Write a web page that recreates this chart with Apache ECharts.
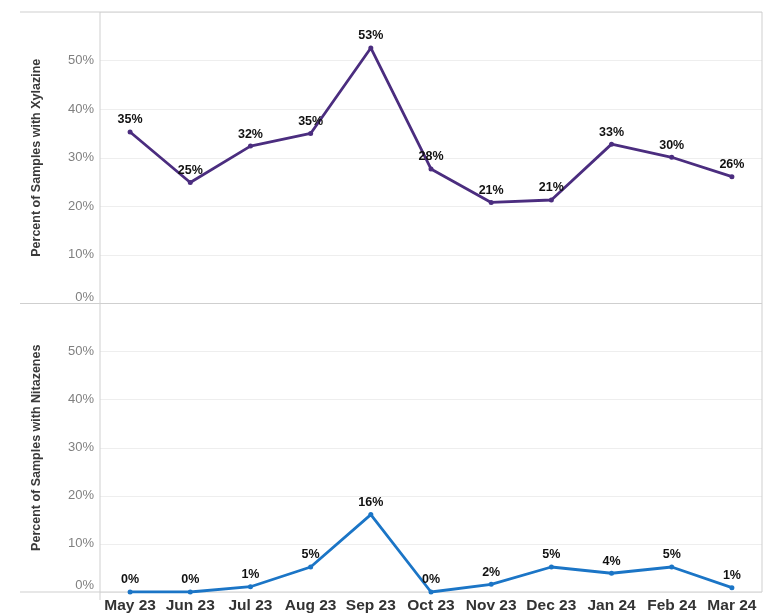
<!DOCTYPE html>
<html>
<head>
<meta charset="utf-8">
<script src="https://cdn.jsdelivr.net/npm/echarts@6/dist/echarts.min.js"></script>
<style>
html,body{margin:0;padding:0;background:#fff;}
#chart{width:780px;height:614px;}
</style>
</head>
<body>
<div id="chart"></div>
<script>
var categories = ['May 23','Jun 23','Jul 23','Aug 23','Sep 23','Oct 23','Nov 23','Dec 23','Jan 24','Feb 24','Mar 24'];
var xylazine = [35.3, 24.9, 32.4, 35.0, 52.6, 27.7, 20.8, 21.3, 32.8, 30.1, 26.1];
var nitazenes = [0.0, 0.0, 1.1, 5.2, 16.1, 0.0, 1.6, 5.2, 3.9, 5.2, 0.9];
var yTicks = [0, 10, 20, 30, 40, 50];
var yNames = ['Percent of Samples with Xylazine', 'Percent of Samples with Nitazenes'];

var FONT = '"Liberation Sans", Arial, sans-serif';
var chart = echarts.init(document.getElementById('chart'));

function yAxis(idx, name) {
  return {
    type: 'value', gridIndex: idx, min: 0, max: 60, interval: 10,
    name: name, nameLocation: 'middle', nameGap: 57,
    nameTextStyle: {fontFamily: FONT, fontSize: 12.5, fontWeight: 'bold', color: '#3a3a3a'},
    axisLine: {show: false}, axisTick: {show: false},
    axisLabel: {
      fontFamily: FONT, fontSize: 13, color: '#808080', margin: 6,
      verticalAlignMinLabel: 'bottom',
      formatter: function (v) { return yTicks.indexOf(v) >= 0 ? v + '%' : ''; }
    },
    splitLine: {lineStyle: {color: '#eeeeee', width: 1}}
  };
}
function xAxis(idx, showLabels) {
  return {
    type: 'category', gridIndex: idx, data: categories, boundaryGap: true,
    axisLine: {show: false}, axisTick: {show: false},
    axisLabel: {show: showLabels, fontFamily: FONT, fontSize: 15.5, fontWeight: 'bold', color: '#333', margin: 6, interval: 0},
    splitLine: {show: false}
  };
}
function lineSeries(idx, data, color) {
  return {
    type: 'line', xAxisIndex: idx, yAxisIndex: idx, data: data,
    symbol: 'circle', symbolSize: 5,
    lineStyle: {color: color, width: 2.8},
    itemStyle: {color: color},
    label: {
      show: true, position: 'top', distance: 3,
      fontFamily: FONT, fontSize: 12.5, fontWeight: 'bold', color: '#111',
      formatter: function (p) { return Math.round(p.value) + '%'; }
    },
    z: 3
  };
}

var frameColor = '#cfcfcf';
chart.setOption({
  animation: false,
  backgroundColor: '#ffffff',
  grid: [
    {left: 100, top: 12, width: 662, height: 291.5},
    {left: 100, top: 303.5, width: 662, height: 288.5}
  ],
  xAxis: [xAxis(0, false), xAxis(1, true)],
  yAxis: [yAxis(0, yNames[0]), yAxis(1, yNames[1])],
  series: [lineSeries(0, xylazine, '#4b2d7f'), lineSeries(1, nitazenes, '#1b75c6')],
  graphic: [
    {type: 'line', shape: {x1: 20, y1: 12, x2: 762, y2: 12}, style: {stroke: frameColor, lineWidth: 1}, z: 1},
    {type: 'line', shape: {x1: 20, y1: 303.5, x2: 762, y2: 303.5}, style: {stroke: frameColor, lineWidth: 1}, z: 1},
    {type: 'line', shape: {x1: 20, y1: 592, x2: 762, y2: 592}, style: {stroke: frameColor, lineWidth: 1}, z: 1},
    {type: 'line', shape: {x1: 100, y1: 12, x2: 100, y2: 600}, style: {stroke: frameColor, lineWidth: 1}, z: 1},
    {type: 'line', shape: {x1: 762, y1: 12, x2: 762, y2: 592}, style: {stroke: frameColor, lineWidth: 1}, z: 1}
  ]
});
</script>
</body>
</html>
